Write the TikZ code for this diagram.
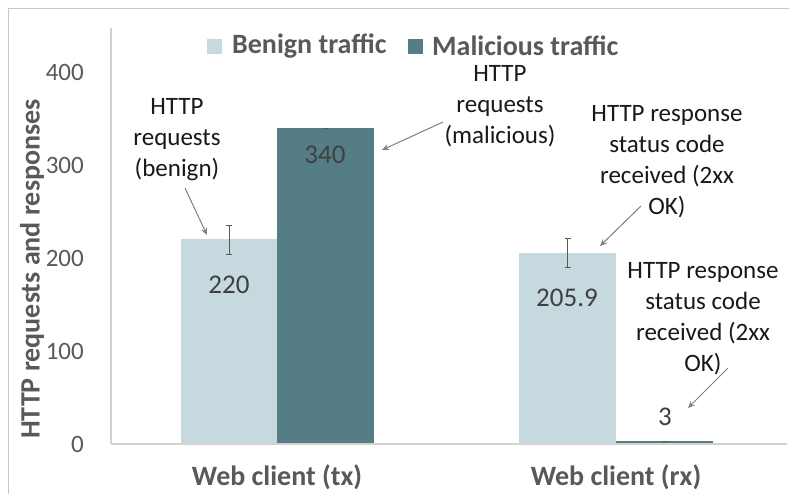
\documentclass[tikz,border=0pt]{standalone}
\usepackage{fontspec}
\setmainfont{Carlito}
\usetikzlibrary{arrows.meta}
\definecolor{benign}{RGB}{198,217,223}
\definecolor{malic}{RGB}{85,125,134}
\definecolor{axisgray}{RGB}{210,210,210}
\definecolor{framegray}{RGB}{200,200,200}
\definecolor{txtgray}{RGB}{89,89,89}
\definecolor{valgray}{RGB}{64,64,64}
\definecolor{arrowgray}{RGB}{128,128,128}
\tikzset{
  ticklbl/.style={anchor=east,font=\fontsize{25}{30}\selectfont,text=txtgray,inner sep=0pt},
  vallbl/.style={font=\fontsize{27}{32}\selectfont,text=valgray,inner sep=0pt},
  annot/.style={align=center,font=\fontsize{25}{31}\selectfont,text=black!90,inner sep=0pt},
  legtxt/.style={anchor=west,font=\fontsize{28}{33}\selectfont\bfseries,text=txtgray,inner sep=0pt},
  catlbl/.style={anchor=base,font=\fontsize{28}{33}\selectfont\bfseries,text=txtgray,inner sep=0pt},
  pointer/.style={draw=arrowgray,line width=1pt,-{Stealth[length=7pt,width=6pt]}},
  errbar/.style={draw=txtgray,line width=0.9pt}
}
\begin{document}
\begin{tikzpicture}[x=1pt,y=-1pt]
\useasboundingbox (0,0) rectangle (789,493);
\fill[white] (0,0) rectangle (789,493);
% frame
\draw[framegray,line width=1pt] (8,500) -- (8,8) -- (800,8);
% bars
\fill[benign] (181,239.4) rectangle (277,444);
\fill[malic] (277,127.8) rectangle (374,444);
\fill[benign] (519,252.5) rectangle (616,444);
\fill[malic] (616,441.2) rectangle (713,444);
% axes
\draw[axisgray,line width=1.2pt] (111,28) -- (111,444);
\draw[axisgray,line width=1.2pt] (111,444) -- (787,444);
% error bars
\draw[errbar] (229,225) -- (229,254) (226,225) -- (232,225) (226,254) -- (232,254);
\draw[errbar] (322.5,128) -- (328.5,128);
\draw[errbar] (567.5,238) -- (567.5,267) (564.5,238) -- (570.5,238) (564.5,267) -- (570.5,267);
\draw[errbar] (661.5,441) -- (667.5,441);
% tick labels
\node[ticklbl] (t400) at (84,72) {400};
\node[ticklbl] (t300) at (84,165) {300};
\node[ticklbl] (t200) at (84,258) {200};
\node[ticklbl] (t100) at (84,351) {100};
\node[ticklbl] (t0) at (84,444) {0};
% axis title
\node[rotate=90,font=\fontsize{28}{33}\selectfont\bfseries,text=txtgray,inner sep=0pt] (ytitle) at (32,269) {HTTP requests and responses};
% legend
\fill[benign] (207,39) rectangle (222,54);
\node[legtxt] (lb) at (232,46) {Benign traffic};
\fill[malic] (408,39) rectangle (423,54);
\node[legtxt] (lm) at (432,46) {Malicious traffic};
% value labels
\node[vallbl] (v220) at (229,285) {220};
\node[vallbl] (v340) at (325,155) {340};
\node[vallbl] (v2059) at (567,298) {205.9};
\node[vallbl] (v3) at (665,417) {3};
% category labels
\node[catlbl] (c1) at (277,485) {Web client (tx)};
\node[catlbl] (c2) at (616,485) {Web client (rx)};
% annotations
\node[annot] (a1) at (177,140) {HTTP\\requests\\(benign)};
\node[annot] (a2) at (500,106) {HTTP\\requests\\(malicious)};
\node[annot] (a3) at (667,162) {HTTP response\\status code\\received (2xx\\OK)};
\node[annot] (a4) at (703,319) {HTTP response\\status code\\received (2xx\\OK)};
% arrow coordinates
\coordinate (p1s) at (185,188);
\coordinate (p1e) at (207,235);
\coordinate (p2s) at (443,122);
\coordinate (p2e) at (382,150);
\coordinate (p3s) at (641,206);
\coordinate (p3e) at (600,246);
\coordinate (p4s) at (728,368);
\coordinate (p4e) at (688,408);
\draw[pointer] (p1s) -- (p1e);
\draw[pointer] (p2s) -- (p2e);
\draw[pointer] (p3s) -- (p3e);
\draw[pointer] (p4s) -- (p4e);
\end{tikzpicture}
\end{document}
